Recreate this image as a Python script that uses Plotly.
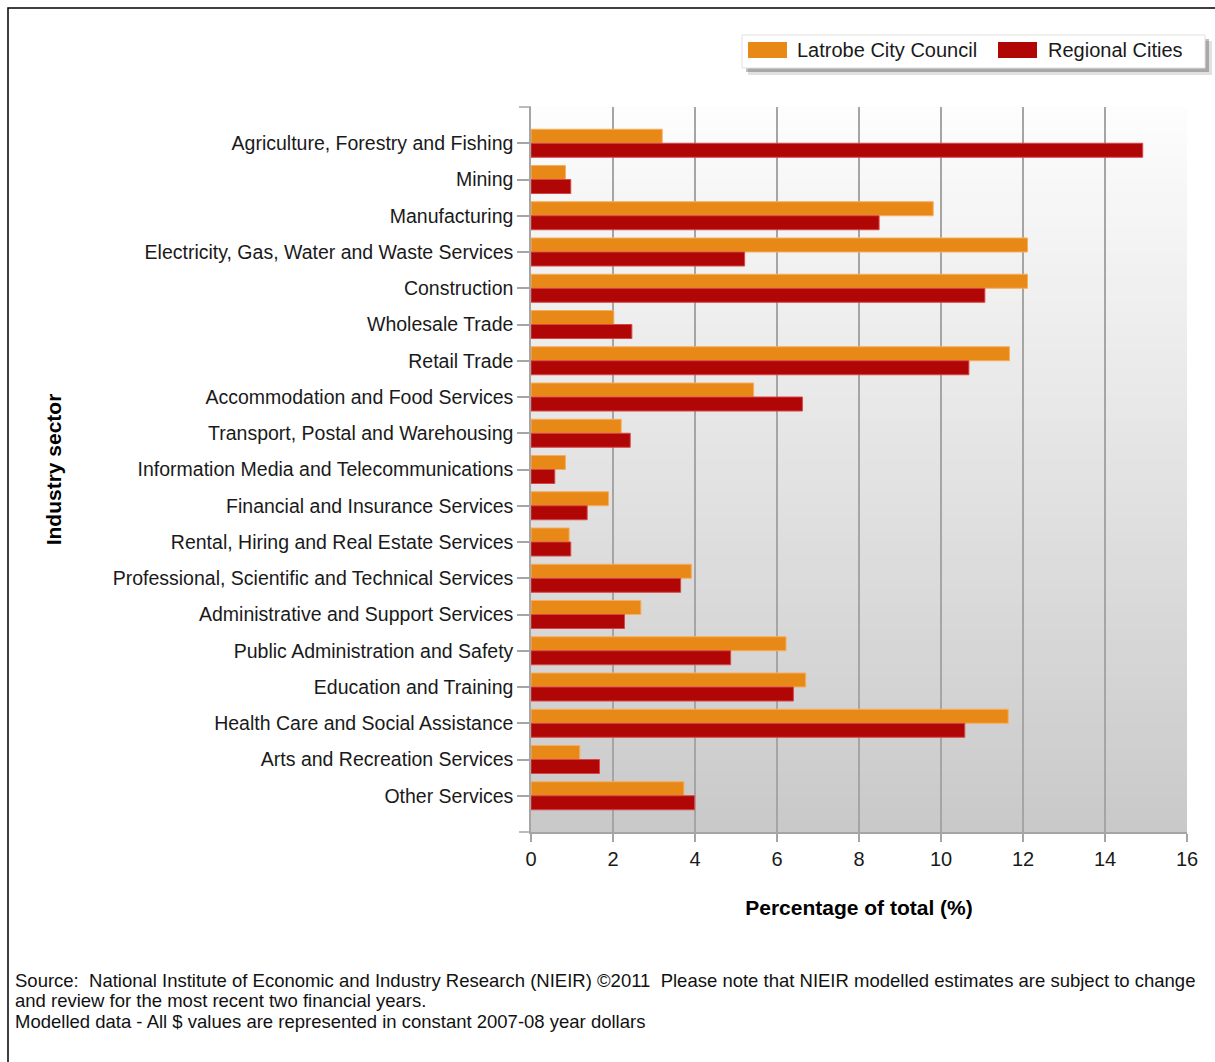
import plotly.graph_objects as go

categories = [
    "Agriculture, Forestry and Fishing", "Mining", "Manufacturing",
    "Electricity, Gas, Water and Waste Services", "Construction",
    "Wholesale Trade", "Retail Trade", "Accommodation and Food Services",
    "Transport, Postal and Warehousing", "Information Media and Telecommunications",
    "Financial and Insurance Services", "Rental, Hiring and Real Estate Services",
    "Professional, Scientific and Technical Services",
    "Administrative and Support Services", "Public Administration and Safety",
    "Education and Training", "Health Care and Social Assistance",
    "Arts and Recreation Services", "Other Services",
]
latrobe = [3.20, 0.84, 9.81, 12.11, 12.11, 2.02, 11.67, 5.43, 2.20, 0.84,
           1.89, 0.93, 3.91, 2.68, 6.22, 6.70, 11.64, 1.19, 3.73]
regional = [14.92, 0.97, 8.49, 5.21, 11.07, 2.46, 10.68, 6.62, 2.42, 0.58,
            1.37, 0.97, 3.65, 2.28, 4.87, 6.40, 10.58, 1.67, 3.99]
series_names = ["Latrobe City Council", "Regional Cities"]
x_ticks = [0, 2, 4, 6, 8, 10, 12, 14, 16]
footer_lines = [
    "Source:\u00a0 National Institute of Economic and Industry Research (NIEIR) \u00a92011\u00a0 Please note that NIEIR modelled estimates are subject to change",
    "and review for the most recent two financial years.",
    "Modelled data - All $ values are represented in constant 2007-08 year dollars",
]

W, H = 1215, 1062
L, R, T, B = 531, 1187, 107, 832
PW, PH = R - L, B - T


def px(x):
    return (x - L) / PW


def py(y):
    return (B - y) / PH


ORANGE = "rgb(232,137,23)"
RED = "rgb(176,6,6)"
FONT = "Liberation Sans, Arial, sans-serif"

fig = go.Figure()
fig.add_trace(go.Bar(y=categories, x=latrobe, orientation="h", name=series_names[0],
                     marker=dict(color=ORANGE, line=dict(color="rgb(245,175,95)", width=1)),
                     showlegend=False))
fig.add_trace(go.Bar(y=categories, x=regional, orientation="h", name=series_names[1],
                     marker=dict(color=RED, line=dict(color="rgb(215,70,70)", width=1)),
                     showlegend=False))

shapes = []
# gradient plot background
N = 60
for i in range(N):
    t = (i + 0.5) / N
    v = round(253 - (253 - 201) * t)
    shapes.append(dict(type="rect", xref="paper", yref="paper", x0=0, x1=1,
                       y0=1 - (i + 1) / N - 0.001, y1=1 - i / N,
                       fillcolor=f"rgb({v},{v},{v})", line=dict(width=0), layer="below"))
# figure border
shapes.append(dict(type="rect", xref="paper", yref="paper", x0=px(8), x1=px(1220),
                   y0=py(1070), y1=py(8), line=dict(color="black", width=1.5),
                   fillcolor="rgba(0,0,0,0)", layer="above"))
# small end ticks on the category axis
for yy in (T, B):
    shapes.append(dict(type="line", xref="paper", yref="paper", x0=px(L - 12), x1=0,
                       y0=py(yy), y1=py(yy), line=dict(color="rgb(165,165,165)", width=1.5),
                       layer="above"))
# legend box with shadow
shapes.append(dict(type="rect", xref="paper", yref="paper", x0=px(748), x1=px(1212),
                   y0=py(75), y1=py(41), fillcolor="rgba(0,0,0,0.12)", line=dict(width=0), layer="above"))
shapes.append(dict(type="rect", xref="paper", yref="paper", x0=px(746), x1=px(1209),
                   y0=py(72), y1=py(39), fillcolor="rgba(0,0,0,0.25)", line=dict(width=0), layer="above"))
shapes.append(dict(type="rect", xref="paper", yref="paper", x0=px(742), x1=px(1205),
                   y0=py(68), y1=py(35), fillcolor="white", line=dict(color="rgb(225,225,225)", width=1), layer="above"))
# legend swatches
for sx, col in [(748, ORANGE), (998, RED)]:
    shapes.append(dict(type="rect", xref="paper", yref="paper", x0=px(sx), x1=px(sx + 39),
                       y0=py(58), y1=py(42), fillcolor=col, line=dict(width=0), layer="above"))

annotations = [
    dict(text=series_names[0], x=px(795), y=py(50), xref="paper", yref="paper",
         xanchor="left", yanchor="middle", showarrow=False,
         font=dict(family=FONT, size=20, color="#1a1a1a")),
    dict(text=series_names[1], x=px(1046), y=py(50), xref="paper", yref="paper",
         xanchor="left", yanchor="middle", showarrow=False,
         font=dict(family=FONT, size=20, color="#1a1a1a")),
]
for line, yy in zip(footer_lines, (980, 1000, 1021)):
    annotations.append(dict(text=line, x=px(13), y=py(yy), xref="paper", yref="paper",
                            xanchor="left", yanchor="middle", align="left", showarrow=False,
                            font=dict(family=FONT, size=18.5, color="#111")))

fig.update_layout(
    width=W, height=H,
    margin=dict(l=L, r=W - R, t=T, b=H - B, pad=0),
    paper_bgcolor="white", plot_bgcolor="rgba(0,0,0,0)",
    barmode="group", bargap=0.227, bargroupgap=0,
    font=dict(family=FONT, color="#1a1a1a"),
    shapes=shapes, annotations=annotations,
    xaxis=dict(range=[0, 16], tickvals=x_ticks, showgrid=True, gridcolor="rgb(165,165,165)",
               gridwidth=1.5, zeroline=False, showline=True, linecolor="rgb(165,165,165)",
               linewidth=1.5, ticks="outside", ticklen=8, tickcolor="rgb(165,165,165)",
               tickwidth=1.5, tickfont=dict(size=20, color="#1a1a1a"),
               title=dict(text="<b>Percentage of total (%)</b>", standoff=32,
                          font=dict(size=21, color="black"))),
    yaxis=dict(type="category", range=[19, -1], showgrid=False, zeroline=False,
               showline=True, linecolor="rgb(165,165,165)", linewidth=1.5,
               ticks="outside", ticklen=12, tickcolor="rgb(165,165,165)", tickwidth=1.5,
               tickfont=dict(size=19.5, color="#1a1a1a"),
               title=dict(text="<b>Industry sector</b>", standoff=45,
                          font=dict(size=21, color="black"))),
)

fig.write_html("out.html")
